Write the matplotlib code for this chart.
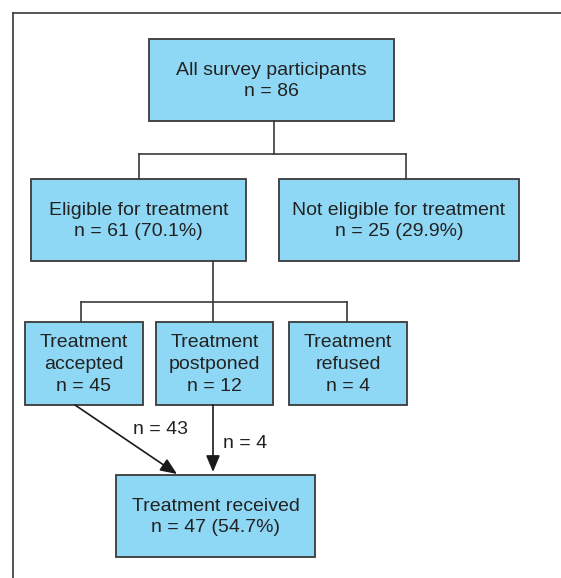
import matplotlib.pyplot as plt
from matplotlib.patches import Rectangle

plt.rcParams['font.family'] = ['Liberation Sans', 'DejaVu Sans']

# data
stage_labels = ['All survey participants', 'Eligible for treatment', 'Not eligible for treatment',
                'Treatment\naccepted', 'Treatment\npostponed', 'Treatment\nrefused',
                'Treatment received']
stage_counts = [86, 61, 25, 45, 12, 4, 47]
stage_pct = [None, '70.1%', '29.9%', None, None, None, '54.7%']
flow_counts = [43, 4]  # accepted -> received, postponed -> received

# box layout in pixels (x0, y0, x1, y1)
boxes = [(149, 39, 394, 121),
         (31, 179, 246, 261),
         (279, 179, 519, 261),
         (25, 322, 143, 405),
         (156, 322, 273, 405),
         (289, 322, 407, 405),
         (116, 475, 315, 557)]

fill = '#8fd8f5'
edge = '#3a3a3a'
txt = '#222222'
fs = 14

fig = plt.figure(figsize=(5.61, 5.78), dpi=100)
ax = fig.add_axes([0, 0, 1, 1])
ax.set_xlim(0, 561)
ax.set_ylim(578, 0)
ax.axis('off')

# frame (left and top edge visible)
ax.plot([13, 13], [578, 13], color=edge, lw=1.2)
ax.plot([13, 561], [13, 13], color=edge, lw=1.2)

for (x0, y0, x1, y1), lab, n, p in zip(boxes, stage_labels, stage_counts, stage_pct):
    ax.add_patch(Rectangle((x0, y0), x1 - x0, y1 - y0, facecolor=fill, edgecolor=edge, lw=1.3))
    s = f'{lab}\nn = {n}' + (f' ({p})' if p else '')
    ax.text((x0 + x1) / 2, (y0 + y1) / 2 + 1, s, ha='center', va='center',
            fontsize=fs, color=txt, linespacing=1.38)

# connectors
lk = dict(color=edge, lw=1.2)
ax.plot([274, 274], [121, 154], **lk)
ax.plot([139, 406], [154, 154], **lk)
ax.plot([139, 139], [154, 179], **lk)
ax.plot([406, 406], [154, 179], **lk)
ax.plot([213, 213], [261, 322], **lk)
ax.plot([81, 347], [302, 302], **lk)
ax.plot([81, 81], [302, 322], **lk)
ax.plot([347, 347], [302, 322], **lk)

# arrows to treatment received
ap = dict(arrowstyle='-|>,head_length=1.0,head_width=0.42', color='#1a1a1a', lw=1.2,
          shrinkA=0, shrinkB=0)
ax.annotate('', xy=(177, 474), xytext=(75, 405), arrowprops=ap)
ax.annotate('', xy=(213, 472), xytext=(213, 405), arrowprops=ap)
ax.text(161, 430, f'n = {flow_counts[0]}', ha='center', va='center', fontsize=fs, color=txt)
ax.text(245, 443, f'n = {flow_counts[1]}', ha='center', va='center', fontsize=fs, color=txt)

fig.savefig('out.png', dpi=100)
